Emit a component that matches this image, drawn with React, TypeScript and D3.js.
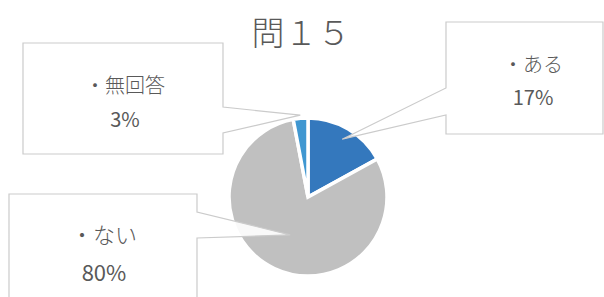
import React from 'react';
import * as d3 from 'd3';

const title = '問１５';
const categories = ['ある', 'ない', '無回答'];
const values = [17, 80, 3];
const percentLabels = ['17%', '80%', '3%'];

const sliceColors = ['#3478bd', '#c0c0c0', '#3f97d1'];

// callout boxes: rectangle, which side the pointer leaves from, pointer base, tip depth
const callouts = [
  { x: 446, y: 22, w: 157, h: 112, side: 'left', b0: 88, b1: 115, tipR: 0.85, cx: 533, l1: 72, l2: 105, fs: 20 },
  { x: 9, y: 194, w: 188, h: 120, side: 'right', b0: 212, b1: 238, tipR: 0.53, cx: 104, l1: 243, l2: 281, fs: 22 },
  { x: 23, y: 43, w: 200, h: 111, side: 'right', b0: 107, b1: 133, tipR: 1.04, cx: 125, l1: 93, l2: 127, fs: 20 },
];

const W = 604;
const H = 297;
const cx = 308;
const cy = 197;
const r = 79;

export default function App() {
  const pie = d3.pie<number>().sort(null).value(d => d);
  const arcs = pie(values);
  const arc = d3.arc<d3.PieArcDatum<number>>().innerRadius(0).outerRadius(r);
  const font = '"Noto Sans CJK JP", "Noto Sans", sans-serif';

  return (
    <svg width={W} height={H} style={{ position: 'absolute', left: 0, top: 0, background: '#fff' }}>
      <text x={301} y={45} textAnchor="middle" fontFamily={font} fontSize={33} fontWeight={300} fill="#595959">
        {title}
      </text>
      <g transform={`translate(${cx},${cy})`}>
        {arcs.map((a, i) => (
          <path key={i} d={arc(a) || ''} fill={sliceColors[i]} stroke="#fff" strokeWidth={3.5} />
        ))}
      </g>
      {arcs.map((a, i) => {
        const c = callouts[i];
        const mid = (a.startAngle + a.endAngle) / 2;
        const tx = cx + Math.sin(mid) * r * c.tipR;
        const ty = cy - Math.cos(mid) * r * c.tipR;
        const x0 = c.x;
        const x1 = c.x + c.w;
        const y0 = c.y;
        const y1 = c.y + c.h;
        const pts =
          c.side === 'left'
            ? [[x0, y0], [x1, y0], [x1, y1], [x0, y1], [x0, c.b1], [tx, ty], [x0, c.b0]]
            : [[x0, y0], [x1, y0], [x1, c.b0], [tx, ty], [x1, c.b1], [x1, y1], [x0, y1]];
        return (
          <g key={'c' + i}>
            <path
              d={'M' + pts.map(p => p.join(',')).join('L') + 'Z'}
              fill="#fff"
              fillOpacity={0.9}
              stroke="#cbcbcb"
              strokeWidth={1.2}
            />
            <text x={c.cx} y={c.l1} textAnchor="middle" fontFamily={font} fontSize={c.fs} fontWeight={300} fill="#595959">
              {'・' + categories[i]}
            </text>
            <text x={c.cx} y={c.l2} textAnchor="middle" fontFamily={font} fontSize={c.fs} fill="#595959">
              {percentLabels[i]}
            </text>
          </g>
        );
      })}
    </svg>
  );
}
